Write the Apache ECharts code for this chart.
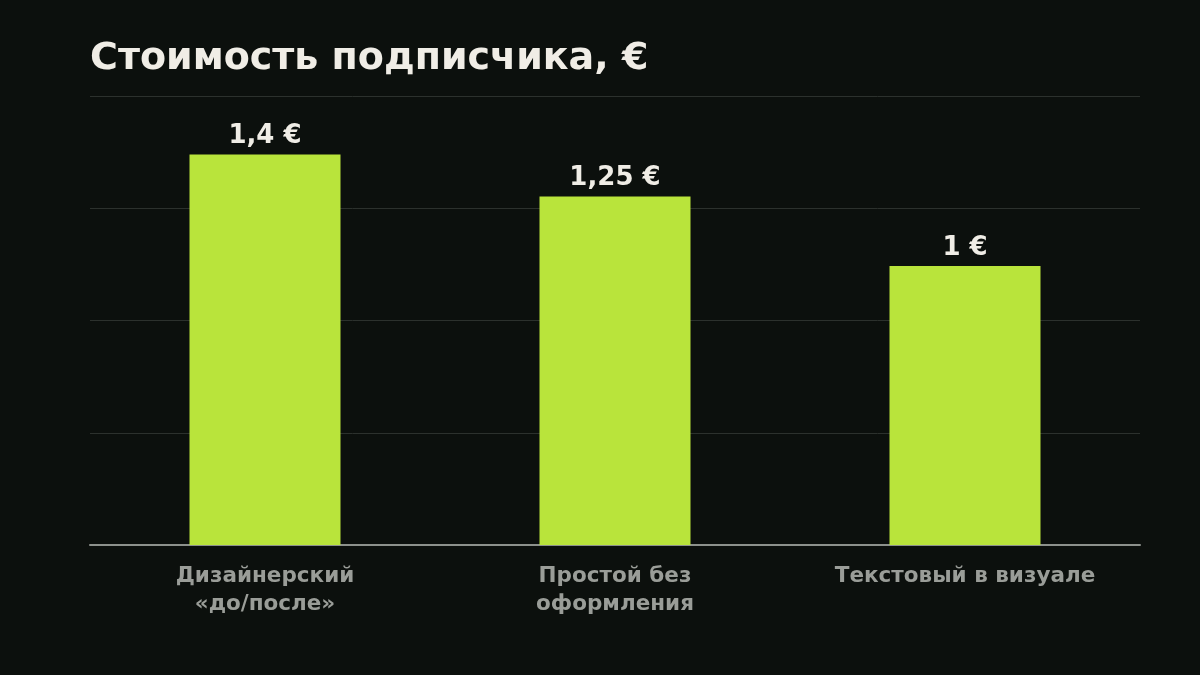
<!DOCTYPE html>
<html><head><meta charset="utf-8">
<script src="https://cdn.jsdelivr.net/npm/echarts@6/dist/echarts.min.js"></script>
<style>html,body{margin:0;padding:0;background:#0c100d;}#c{width:1200px;height:675px;}</style>
</head><body><div id="c"></div>
<script>
const titleText = 'Стоимость подписчика, €';
const categories = ['Дизайнерский\n«до/после»', 'Простой без\nоформления', 'Текстовый в визуале'];
const values = [1.4, 1.25, 1];
const valueLabels = ['1,4 €', '1,25 €', '1 €'];

const chart = echarts.init(document.getElementById('c'));
chart.setOption({
  backgroundColor: '#0c100d',
  animation: false,
  title: {
    text: titleText, left: 90, top: 40, padding: 0,
    textStyle: { color: '#f0ede6', fontFamily: 'DejaVu Sans', fontWeight: 'bold', fontSize: 38 }
  },
  grid: { left: 90, right: 60, top: 96, bottom: 130 },
  xAxis: {
    type: 'category', data: categories,
    axisLine: { lineStyle: { color: '#8d918c', width: 2 } },
    axisTick: { show: false },
    axisLabel: { color: '#9a9d98', fontFamily: 'DejaVu Sans', fontWeight: 'bold', fontSize: 21.5, lineHeight: 28, margin: 17 }
  },
  yAxis: {
    type: 'value', min: 0, max: 1.61, interval: 0.4025,
    axisLabel: { show: false }, axisLine: { show: false }, axisTick: { show: false },
    splitLine: { lineStyle: { color: '#2c312d', width: 1 } }
  },
  series: [{
    type: 'bar', data: values, barWidth: 151,
    itemStyle: { color: '#b9e43b' },
    label: {
      show: true, position: 'top', distance: 5,
      color: '#f0ede6', fontFamily: 'DejaVu Sans', fontWeight: 'bold', fontSize: 26,
      formatter: p => valueLabels[p.dataIndex]
    }
  }]
});
</script></body></html>
